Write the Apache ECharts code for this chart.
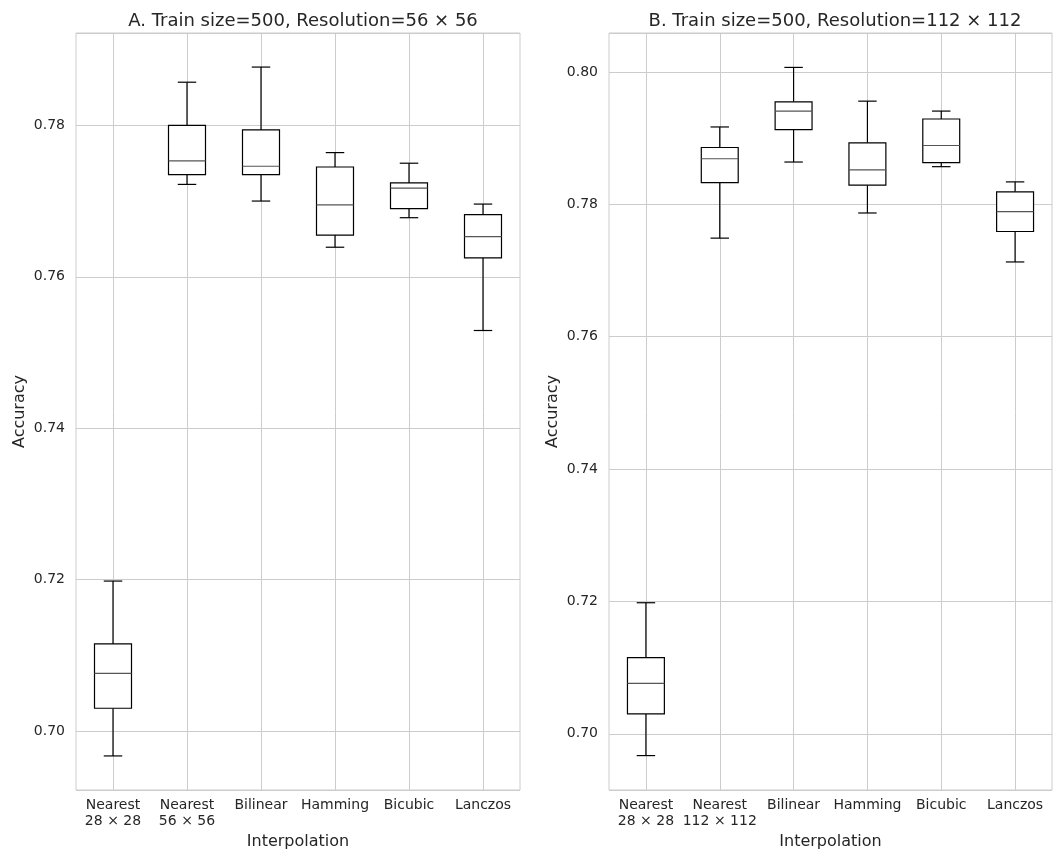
<!DOCTYPE html>
<html>
<head>
<meta charset="utf-8">
<script src="https://cdn.jsdelivr.net/npm/echarts@6/dist/echarts.min.js"></script>
<style>
html,body{margin:0;padding:0;background:#fff;}
#chart{width:1056px;height:855px;}
</style>
</head>
<body>
<div id="chart"></div>
<script>
// ---- Data ----
const titleA = 'A. Train size=500, Resolution=56 × 56';
const titleB = 'B. Train size=500, Resolution=112 × 112';
const categoriesA = ['Nearest\n28 × 28', 'Nearest\n56 × 56', 'Bilinear', 'Hamming', 'Bicubic', 'Lanczos'];
const categoriesB = ['Nearest\n28 × 28', 'Nearest\n112 × 112', 'Bilinear', 'Hamming', 'Bicubic', 'Lanczos'];

const lowA  = [0.6967, 0.7722, 0.7700, 0.7639, 0.7678, 0.7529];
const q1A   = [0.7030, 0.7735, 0.7735, 0.7655, 0.7690, 0.7625];
const medA  = [0.7076, 0.7753, 0.7746, 0.7695, 0.7717, 0.7653];
const q3A   = [0.7115, 0.7800, 0.7794, 0.7745, 0.7724, 0.7682];
const highA = [0.7198, 0.7857, 0.7877, 0.7764, 0.7750, 0.7696];

const lowB  = [0.6967, 0.7749, 0.7864, 0.7787, 0.7857, 0.7713];
const q1B   = [0.7030, 0.7833, 0.7913, 0.7829, 0.7863, 0.7759];
const medB  = [0.7076, 0.7869, 0.7941, 0.7852, 0.7889, 0.7789];
const q3B   = [0.7115, 0.7886, 0.7955, 0.7893, 0.7929, 0.7819];
const highB = [0.7198, 0.7917, 0.8007, 0.7956, 0.7941, 0.7834];

const yRangeA = [0.6922, 0.7922];
const yRangeB = [0.6915, 0.8059];

// ---- Build ----
function rows(low, q1, med, q3, high) {
  return low.map((v, i) => [i, low[i], q1[i], med[i], q3[i], high[i]]);
}

const textColor = '#262626';
const gridColor = '#cccccc';
const font = 'DejaVu Sans';

function renderBox(params, api) {
  const x = api.value(0);
  const lo = api.coord([x, api.value(1)]);
  const q1 = api.coord([x, api.value(2)]);
  const md = api.coord([x, api.value(3)]);
  const q3 = api.coord([x, api.value(4)]);
  const hi = api.coord([x, api.value(5)]);
  const band = api.size([1, 0])[0];
  const hb = band * 0.25, hc = band * 0.125;
  const cx = lo[0];
  const black = {stroke: '#000', lineWidth: 1.2, fill: null};
  return {
    type: 'group',
    children: [
      {type: 'line', shape: {x1: cx, y1: q1[1], x2: cx, y2: lo[1]}, style: black},
      {type: 'line', shape: {x1: cx, y1: q3[1], x2: cx, y2: hi[1]}, style: black},
      {type: 'line', shape: {x1: cx - hc, y1: lo[1], x2: cx + hc, y2: lo[1]}, style: black},
      {type: 'line', shape: {x1: cx - hc, y1: hi[1], x2: cx + hc, y2: hi[1]}, style: black},
      {type: 'rect', shape: {x: cx - hb, y: q3[1], width: 2 * hb, height: q1[1] - q3[1]},
        style: {stroke: '#000', lineWidth: 1.2, fill: '#fff'}},
      {type: 'line', shape: {x1: cx - hb, y1: md[1], x2: cx + hb, y2: md[1]},
        style: {stroke: '#555', lineWidth: 1.2}}
    ]
  };
}

function xAxisCfg(cats, gi) {
  return {
    type: 'category', gridIndex: gi, data: cats, boundaryGap: true,
    name: 'Interpolation', nameLocation: 'middle', nameGap: 44,
    nameTextStyle: {color: textColor, fontSize: 16, fontFamily: font},
    axisLine: {show: false}, axisTick: {show: false},
    axisLabel: {color: textColor, fontSize: 14, fontFamily: font, lineHeight: 16, margin: 7, interval: 0},
    splitLine: {show: true, alignWithLabel: true, lineStyle: {color: gridColor, width: 1}}
  };
}
function yAxisCfg(range, gi) {
  return {
    type: 'value', gridIndex: gi, min: range[0], max: range[1], splitNumber: 5,
    name: 'Accuracy', nameLocation: 'middle', nameGap: 48,
    nameTextStyle: {color: textColor, fontSize: 16, fontFamily: font},
    axisLine: {show: false}, axisTick: {show: false},
    axisLabel: {color: textColor, fontSize: 14, fontFamily: font, margin: 11,
      showMinLabel: false, showMaxLabel: false,
      formatter: v => v.toFixed(2)},
    splitLine: {show: true, lineStyle: {color: gridColor, width: 1}}
  };
}

const chart = echarts.init(document.getElementById('chart'), null, {renderer: 'canvas'});
chart.setOption({
  backgroundColor: '#fff',
  animation: false,
  title: [
    {text: titleA, left: 298, top: 7, textAlign: 'center',
      textStyle: {color: textColor, fontSize: 18, fontWeight: 'normal', fontFamily: font}},
    {text: titleB, left: 830, top: 7, textAlign: 'center',
      textStyle: {color: textColor, fontSize: 18, fontWeight: 'normal', fontFamily: font}}
  ],
  grid: [
    {left: 76, top: 33, width: 444, height: 760, show: true, borderColor: gridColor, borderWidth: 1, backgroundColor: '#fff'},
    {left: 609, top: 33, width: 443, height: 761, show: true, borderColor: gridColor, borderWidth: 1, backgroundColor: '#fff'}
  ],
  xAxis: [xAxisCfg(categoriesA, 0), xAxisCfg(categoriesB, 1)],
  yAxis: [yAxisCfg(yRangeA, 0), yAxisCfg(yRangeB, 1)],
  series: [
    {type: 'custom', xAxisIndex: 0, yAxisIndex: 0, renderItem: renderBox,
      encode: {x: 0, y: [1, 2, 3, 4, 5]}, data: rows(lowA, q1A, medA, q3A, highA)},
    {type: 'custom', xAxisIndex: 1, yAxisIndex: 1, renderItem: renderBox,
      encode: {x: 0, y: [1, 2, 3, 4, 5]}, data: rows(lowB, q1B, medB, q3B, highB)}
  ]
});
</script>
</body>
</html>
